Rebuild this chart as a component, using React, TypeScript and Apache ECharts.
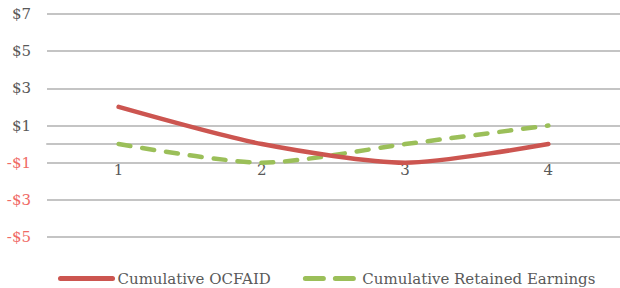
import React, { useEffect, useRef } from "react";
import * as echarts from "echarts";

const categories = ["1", "2", "3", "4"];
const cumulativeOcfaid = [2, 0, -1, 0];
const cumulativeRetained = [0, -1, 0, 1];
const seriesNames = ["Cumulative OCFAID", "Cumulative Retained Earnings"];
const yMin = -5;
const yMax = 7;
const yStep = 2;

const FONT = "DejaVu Serif";

export default function App() {
  const ref = useRef<HTMLDivElement>(null);
  useEffect(() => {
    if (!ref.current) return;
    const chart = echarts.init(ref.current, null, { renderer: "svg" });
    chart.setOption({
      animation: false,
      backgroundColor: "#ffffff",
      textStyle: { fontFamily: FONT },
      grid: { left: 47, top: 14, height: 223, width: 585, containLabel: false },
      legend: {
        left: 58,
        top: 271,
        padding: 0,
        itemWidth: 52,
        itemHeight: 14,
        itemGap: 32,
        itemStyle: { opacity: 0 },
        lineStyle: { width: 5, cap: "round" },
        textStyle: { fontFamily: FONT, fontSize: 15, color: "#595959" },
        data: [
          { name: seriesNames[0], lineStyle: { width: 5, cap: "round" } },
          { name: seriesNames[1], lineStyle: { width: 5, cap: "round", type: [18, 12] } },
        ],
      },
      xAxis: {
        type: "category",
        data: categories,
        boundaryGap: true,
        axisLine: { show: true, onZero: true, lineStyle: { color: "#c4c4c4", width: 2 } },
        axisTick: { show: false },
        axisLabel: { margin: -75, fontFamily: FONT, fontSize: 15, color: "#595959" },
        splitLine: { show: false },
      },
      yAxis: {
        type: "value",
        min: yMin,
        max: yMax,
        interval: yStep,
        axisLine: { show: false },
        axisTick: { show: false },
        axisLabel: {
          margin: 16,
          fontFamily: FONT,
          fontSize: 15,
          formatter: (v: number) => (v < 0 ? `-$${-v}` : `$${v}`),
          color: (v: any) => (Number(v) < 0 ? "#f06a66" : "#595959"),
        },
        splitLine: { show: true, lineStyle: { color: "#c4c4c4", width: 2 } },
      },
      series: [
        {
          name: seriesNames[0],
          type: "line",
          data: cumulativeOcfaid,
          smooth: 0.25,
          symbol: "none",
          lineStyle: { color: "#cc5550", width: 4.5, cap: "round" },
          itemStyle: { color: "#cc5550" },
          z: 3,
        },
        {
          name: seriesNames[1],
          type: "line",
          data: cumulativeRetained,
          smooth: 0.25,
          symbol: "none",
          lineStyle: { color: "#9bbf59", width: 4.5, type: [12, 12], cap: "round" },
          itemStyle: { color: "#9bbf59" },
          z: 2,
        },
      ],
    });
    return () => chart.dispose();
  }, []);
  return (
    <div
      ref={ref}
      style={{ position: "fixed", left: 0, top: 0, width: 620, height: 288, background: "#fff" }}
    />
  );
}
